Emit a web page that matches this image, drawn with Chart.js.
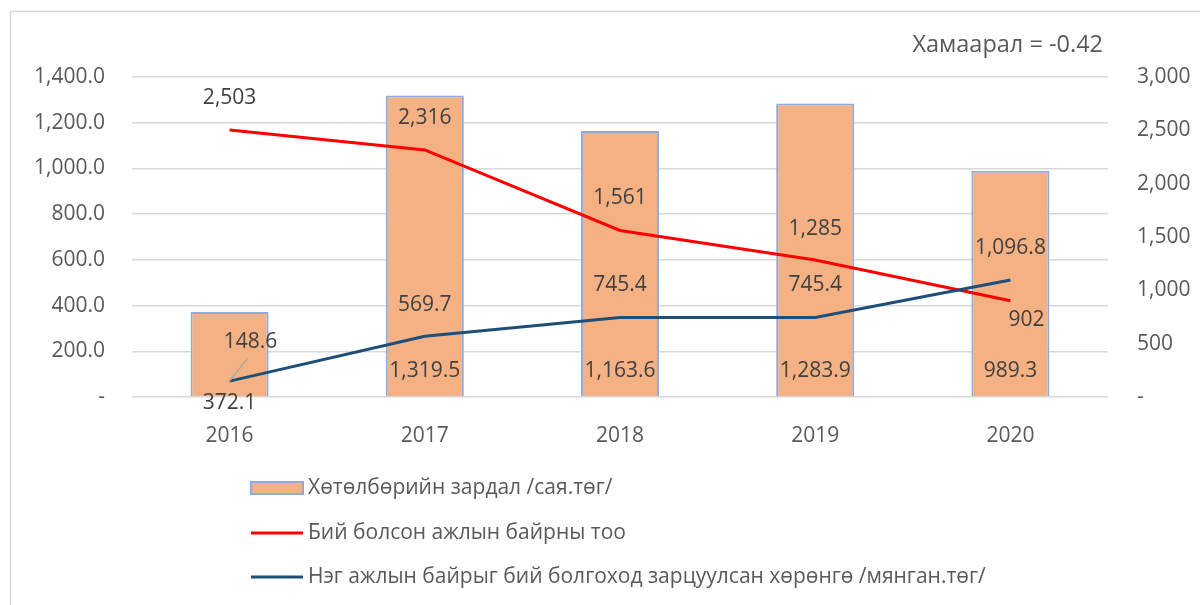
<!DOCTYPE html>
<html>
<head>
<meta charset="utf-8">
<script src="https://cdn.jsdelivr.net/npm/chart.js@4.4.1/dist/chart.umd.min.js"></script>
<style>
  body { margin: 0; background: #fff; }
</style>
</head>
<body>
<canvas id="chart" width="1200" height="605"></canvas>
<script>
// ===== DATA =====
const years = ['2016', '2017', '2018', '2019', '2020'];
const spending = [372.1, 1319.5, 1163.6, 1283.9, 989.3];      // Хөтөлбөрийн зардал /сая.төг/
const jobsCreated = [2503, 2316, 1561, 1285, 902];            // Бий болсон ажлын байрны тоо
const costPerJob = [148.6, 569.7, 745.4, 745.4, 1096.8];      // Нэг ажлын байрыг бий болгоход ...
const seriesNames = [
  'Хөтөлбөрийн зардал /сая.төг/',
  'Бий болсон ажлын байрны тоо',
  'Нэг ажлын байрыг бий болгоход зарцуулсан хөрөнгө /мянган.төг/'
];
const correlationText = 'Хамаарал = -0.42';

const FONT = "'Open Sans', sans-serif";
const TEXT = '#595959';
const LABEL = '#404040';
const GRID = '#d9d9d9';

// label offsets (style only)
const barLabelDy = [7, -25, -25, -25, -25];
const redLabelOff = [[0, -32], [0, -32], [0, -32], [0, -31], [16, 19]];
const blueLabelOff = [[21, -39], [0, -31], [0, -32], [0, -32], [0, -32]];

const fmt1 = v => v.toLocaleString('en-US', { minimumFractionDigits: 1, maximumFractionDigits: 1 });
const fmt0 = v => v.toLocaleString('en-US', { maximumFractionDigits: 0 });

// frame, title, value labels, vertical legend
const extras = {
  id: 'extras',
  beforeDraw(chart) {
    const ctx = chart.ctx;
    ctx.save();
    ctx.strokeStyle = GRID;
    ctx.lineWidth = 1.5;
    ctx.beginPath();
    ctx.moveTo(10.5, 605);
    ctx.lineTo(10.5, 11.5);
    ctx.lineTo(1200, 11.5);
    ctx.stroke();
    ctx.restore();
  },
  afterDatasetsDraw(chart) {
    const ctx = chart.ctx;
    ctx.save();
    ctx.font = '21px ' + FONT;
    ctx.fillStyle = LABEL;
    ctx.textAlign = 'center';
    ctx.textBaseline = 'middle';

    chart.getDatasetMeta(0).data.forEach((el, i) => {
      ctx.fillText(fmt1(spending[i]), el.x, el.base + barLabelDy[i]);
    });
    chart.getDatasetMeta(1).data.forEach((el, i) => {
      ctx.fillText(fmt0(jobsCreated[i]), el.x + redLabelOff[i][0], el.y + redLabelOff[i][1]);
    });
    const blue = chart.getDatasetMeta(2).data;
    // leader line for the first label
    ctx.strokeStyle = '#a6a6a6';
    ctx.lineWidth = 1.2;
    ctx.beginPath();
    ctx.moveTo(blue[0].x, blue[0].y);
    ctx.lineTo(blue[0].x + 18, blue[0].y - 23);
    ctx.stroke();
    blue.forEach((el, i) => {
      ctx.fillText(fmt1(costPerJob[i]), el.x + blueLabelOff[i][0], el.y + blueLabelOff[i][1]);
    });
    ctx.restore();
  },
  afterDraw(chart) {
    const ctx = chart.ctx;
    ctx.save();
    ctx.font = '23.5px ' + FONT;
    ctx.fillStyle = TEXT;
    ctx.textBaseline = 'middle';
    ctx.textAlign = 'right';
    ctx.fillText(correlationText, 1103, 45);

    // legend
    ctx.font = '21px ' + FONT;
    ctx.textAlign = 'left';
    const rows = [488, 533, 577];
    const ds = chart.data.datasets;
    rows.forEach((y, i) => {
      if (i === 0) {
        ctx.fillStyle = ds[0].backgroundColor;
        ctx.fillRect(251, y - 6, 52, 12);
        ctx.strokeStyle = ds[0].borderColor;
        ctx.lineWidth = 2;
        ctx.strokeRect(251, y - 6, 52, 12);
      } else {
        ctx.strokeStyle = ds[i].borderColor;
        ctx.lineWidth = 3;
        ctx.beginPath();
        ctx.moveTo(251, y);
        ctx.lineTo(303, y);
        ctx.stroke();
      }
      ctx.fillStyle = TEXT;
      ctx.fillText(seriesNames[i], 308, y);
    });
    ctx.restore();
  }
};

new Chart(document.getElementById('chart'), {
  type: 'bar',
  data: {
    labels: years,
    datasets: [{
      label: seriesNames[0],
      data: spending,
      yAxisID: 'y',
      backgroundColor: '#F4B183',
      borderColor: '#8FAADC',
      borderWidth: 2,
      categoryPercentage: 1,
      barPercentage: 0.4,
      order: 2
    }, {
      label: seriesNames[1],
      type: 'line',
      data: jobsCreated,
      yAxisID: 'y2',
      borderColor: '#FF0000',
      borderWidth: 3,
      pointRadius: 0,
      fill: false,
      order: 1
    }, {
      label: seriesNames[2],
      type: 'line',
      data: costPerJob,
      yAxisID: 'y2',
      borderColor: '#1F4E79',
      borderWidth: 3,
      pointRadius: 0,
      fill: false,
      order: 0
    }]
  },
  options: {
    responsive: false,
    animation: false,
    layout: { padding: { top: 77, left: 0, right: 0, bottom: 148 } },
    plugins: {
      legend: { display: false },
      tooltip: { enabled: false }
    },
    scales: {
      x: {
        grid: { display: false },
        border: { display: false },
        ticks: { color: TEXT, font: { family: FONT, size: 21 }, padding: 18 },
        afterFit: s => { s.height = 60; }
      },
      y: {
        position: 'left',
        min: 0, max: 1400,
        grid: { color: GRID, lineWidth: 1.5, drawTicks: false },
        border: { display: false },
        ticks: {
          stepSize: 200,
          color: TEXT,
          font: { family: FONT, size: 21 },
          padding: 27,
          callback: v => v === 0 ? '-' : fmt1(v)
        },
        afterFit: s => { s.width = 132; }
      },
      y2: {
        position: 'right',
        min: 0, max: 3000,
        grid: { display: false, drawTicks: false },
        border: { display: false },
        ticks: {
          stepSize: 500,
          color: TEXT,
          font: { family: FONT, size: 21 },
          padding: 29,
          callback: v => v === 0 ? '-' : fmt0(v)
        },
        afterFit: s => { s.width = 92; }
      }
    }
  },
  plugins: [extras]
});
</script>
</body>
</html>
